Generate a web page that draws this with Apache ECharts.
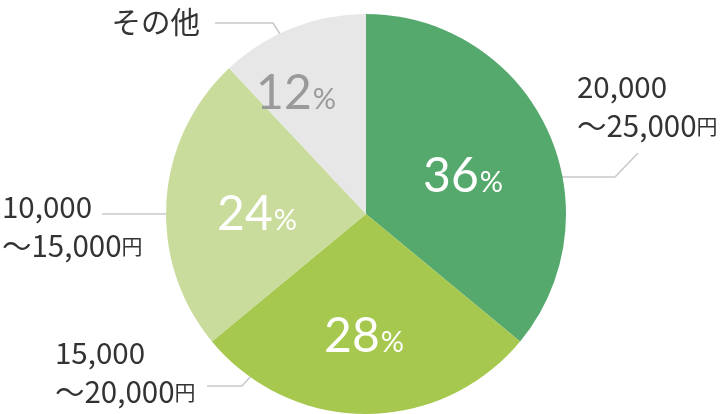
<!DOCTYPE html>
<html>
<head>
<meta charset="utf-8">
<script src="https://cdn.jsdelivr.net/npm/echarts@6/dist/echarts.min.js"></script>
<style>html,body{margin:0;padding:0;background:#fff}#c{width:720px;height:414px}</style>
</head>
<body>
<div id="c"></div>
<script>
// ---- data ----
const categories = ['20,000\n〜25,000円', '15,000\n〜20,000円', '10,000\n〜15,000円', 'その他'];
const values = [36, 28, 24, 12];

// ---- styles / layout ----
const sliceColors = ['#55a96d', '#a6c84f', '#c9dc9b', '#e6e7e6'];
const innerTextColors = ['#ffffff', '#ffffff', '#ffffff', '#9a9a9a'];
const innerPos = [[463, 177], [364, 337], [257, 215], [296, 94]];
const outerLayout = [
  { x: 577, y: 102, align: 'left', pts: [[550, 177], [615, 177], [638, 153]] },
  { x: 55, y: 368, align: 'left', pts: [[262, 364], [242, 386], [207, 386]] },
  { x: 2, y: 222, align: 'left', pts: [[183, 214], [102, 214]] },
  { x: 200, y: 17, align: 'right', pts: [[289, 48], [273, 23], [215, 23]] }
];

const data = categories.map((c, i) => ({ name: c, value: values[i], itemStyle: { color: sliceColors[i] } }));
const innerData = categories.map((c, i) => ({
  name: c, value: values[i], itemStyle: { color: sliceColors[i] },
  label: { rich: { n: { color: innerTextColors[i] }, p: { color: innerTextColors[i] } } }
}));

const chart = echarts.init(document.getElementById('c'), null, { renderer: 'canvas' });
chart.setOption({
  animation: false,
  series: [
    {
      type: 'pie', silent: true, center: [366, 214], radius: 200, startAngle: 90, clockwise: true,
      data: innerData,
      label: {
        position: 'inside', overflow: 'none',
        formatter: p => `{n|${p.value}}{p|%}`,
        rich: {
          n: { fontFamily: 'Lato', fontSize: 48, fontWeight: 'normal', lineHeight: 48, verticalAlign: 'bottom' },
          p: { fontFamily: 'Lato', fontSize: 29, fontWeight: 'normal', lineHeight: 48, verticalAlign: 'bottom', padding: [0, 0, 4, 1] }
        }
      },
      labelLine: { show: false },
      labelLayout: p => ({ x: innerPos[p.dataIndex][0], y: innerPos[p.dataIndex][1], align: 'center', verticalAlign: 'middle' })
    },
    {
      type: 'pie', silent: true, center: [366, 214], radius: 185, startAngle: 90, clockwise: true,
      data: data.map(d => ({ name: d.name, value: d.value, itemStyle: { color: 'rgba(0,0,0,0)' } })),
      label: {
        position: 'outside', overflow: 'none', edgeDistance: 0, bleedMargin: 0,
        formatter: p => p.name.split('\n').map(l => l.endsWith('円') ? `{a|${l.slice(0, -1)}}{b|円}` : `{a|${l}}`).join('\n'),
        rich: {
          a: { fontFamily: 'Noto Sans CJK JP', fontSize: 29.5, color: '#333333', lineHeight: 39, verticalAlign: 'bottom' },
          b: { fontFamily: 'Noto Sans CJK JP', fontSize: 21, color: '#333333', lineHeight: 39, verticalAlign: 'bottom', padding: [0, 0, 4, 0] }
        }
      },
      labelLine: { show: true, lineStyle: { color: '#c8c8c8', width: 1.5 } },
      labelLayout: p => {
        const L = outerLayout[p.dataIndex];
        return { x: L.x, y: L.y, align: L.align, verticalAlign: 'middle', labelLinePoints: L.pts };
      }
    }
  ]
});
</script>
</body>
</html>
